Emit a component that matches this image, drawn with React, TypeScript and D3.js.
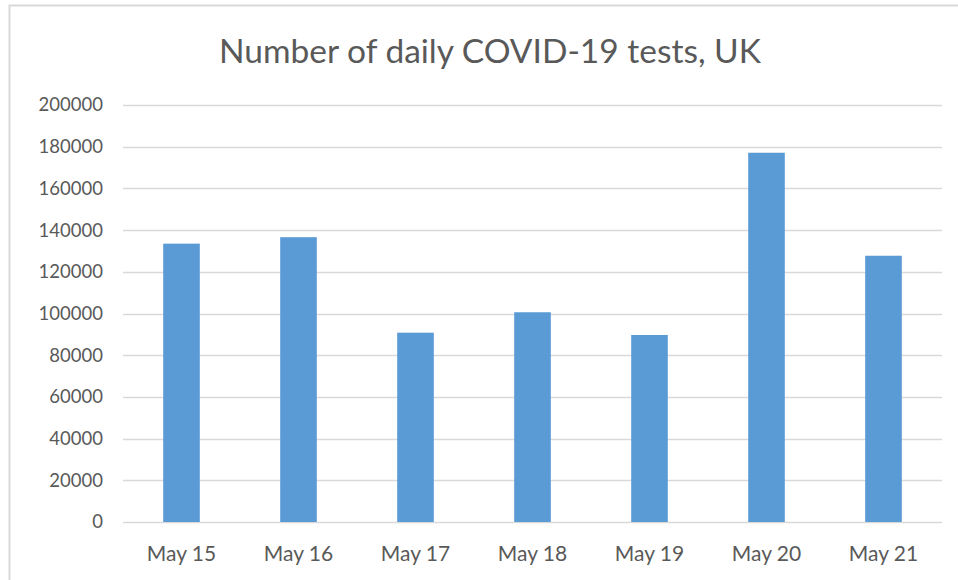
import { useEffect, useRef } from "react";
import * as d3 from "d3";

const days = ["May 15", "May 16", "May 17", "May 18", "May 19", "May 20", "May 21"];
const tests = [133500, 136600, 90800, 100600, 89700, 177100, 127700];
const yTicks = [0, 20000, 40000, 60000, 80000, 100000, 120000, 140000, 160000, 180000, 200000];

const App = () => {
    const chartRef = useRef<SVGSVGElement>(null);

    useEffect(() => {
        document.body.style.margin = "0";
        const svg = d3.select(chartRef.current);
        svg.selectAll("*").remove();

        const width = 958;
        const height = 580;
        const margin = { top: 105, right: 16, bottom: 58, left: 123 };
        const font = "Lato, 'Open Sans', sans-serif";
        const textColor = "#595959";

        svg.attr("width", width).attr("height", height);

        // chart area frame (light grey, runs off the right and bottom edges)
        svg
            .append("rect")
            .attr("x", 9.5)
            .attr("y", 5.5)
            .attr("width", width + 10)
            .attr("height", height + 10)
            .attr("fill", "#fff")
            .attr("stroke", "#d9d9d9")
            .attr("stroke-width", 2);

        const x = d3
            .scaleBand()
            .domain(days)
            .range([margin.left, width - margin.right])
            .paddingInner(0.687)
            .paddingOuter(0.3435);

        const y = d3
            .scaleLinear()
            .domain([0, 200000])
            .range([height - margin.bottom, margin.top]);

        // gridlines
        svg
            .append("g")
            .selectAll("line")
            .data(yTicks)
            .enter()
            .append("line")
            .attr("x1", margin.left)
            .attr("x2", width - margin.right)
            .attr("y1", (d) => Math.round(y(d)) + 0.5)
            .attr("y2", (d) => Math.round(y(d)) + 0.5)
            .attr("stroke", "#d9d9d9")
            .attr("stroke-width", 1.5);

        // y-axis labels
        svg
            .append("g")
            .selectAll("text")
            .data(yTicks)
            .enter()
            .append("text")
            .attr("x", 103)
            .attr("y", (d) => y(d))
            .attr("dy", "0.35em")
            .attr("text-anchor", "end")
            .attr("font-family", font)
            .attr("font-size", 18.5)
            .attr("fill", textColor)
            .text((d) => String(d));

        // bars
        svg
            .append("g")
            .selectAll("rect")
            .data(tests)
            .enter()
            .append("rect")
            .attr("x", (d, i) => x(days[i]))
            .attr("y", (d) => y(d))
            .attr("width", x.bandwidth())
            .attr("height", (d) => y(0) - y(d))
            .attr("fill", "#5b9bd5");

        // x-axis labels
        svg
            .append("g")
            .selectAll("text")
            .data(days)
            .enter()
            .append("text")
            .attr("x", (d) => x(d) + x.bandwidth() / 2)
            .attr("y", 561)
            .attr("text-anchor", "middle")
            .attr("font-family", font)
            .attr("font-size", 21)
            .attr("fill", textColor)
            .text((d) => d);

        // title
        svg
            .append("text")
            .attr("x", 490)
            .attr("y", 63)
            .attr("text-anchor", "middle")
            .attr("font-family", font)
            .attr("font-size", 33.5)
            .attr("fill", textColor)
            .text("Number of daily COVID-19 tests, UK");
    }, []);

    return <svg ref={chartRef}></svg>;
};

export default App;
